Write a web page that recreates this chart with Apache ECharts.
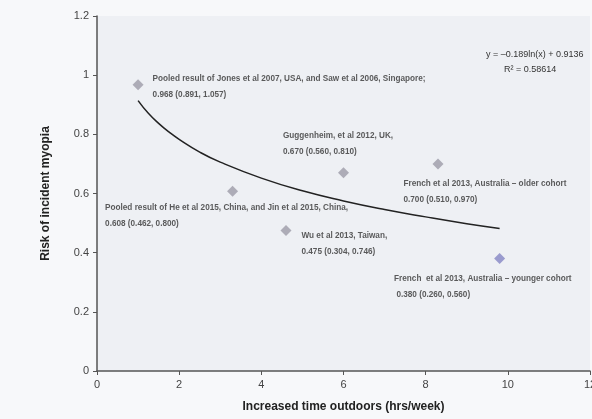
<!DOCTYPE html>
<html>
<head>
<meta charset="utf-8">
<script src="https://cdn.jsdelivr.net/npm/echarts@6/dist/echarts.min.js"></script>
<style>
  html, body { margin: 0; padding: 0; background: #f7f8fa; }
  #chart { width: 592px; height: 419px; }
</style>
</head>
<body>
<div id="chart"></div>
<script>
// study points: hours outdoors vs risk
var studyX = [1.0, 6.0, 8.3, 3.3, 4.6, 9.8];
var studyY = [0.968, 0.670, 0.700, 0.608, 0.475, 0.380];
var studyLabels = [
  'Pooled result of Jones et al 2007, USA, and Saw et al 2006, Singapore;\n0.968 (0.891, 1.057)',
  'Guggenheim, et al 2012, UK,\n0.670 (0.560, 0.810)',
  'French et al 2013, Australia \u2013 older cohort\n0.700 (0.510, 0.970)',
  'Pooled result of He et al 2015, China, and Jin et al 2015, China,\n0.608 (0.462, 0.800)',
  'Wu et al 2013, Taiwan,\n0.475 (0.304, 0.746)',
  'French  et al 2013, Australia \u2013 younger cohort\n 0.380 (0.260, 0.560)'
];
// trend line
var trendX = [1, 1.25, 1.5, 1.75, 2, 2.5, 3, 4, 5, 6, 7, 8, 9, 9.8];
var trendY = [0.914, 0.871, 0.837, 0.808, 0.783, 0.740, 0.706, 0.652, 0.609, 0.575, 0.546, 0.521, 0.498, 0.482];
var xTicks = [0, 2, 4, 6, 8, 10, 12];
var yTicks = [0, 0.2, 0.4, 0.6, 0.8, 1, 1.2];

var labelPos = [[20, -8], [-55, -40], [-29, 17], [-122, 14], [21, 3], [-100, 18]];
var pointColors = ['#9c9ba8', '#9c9ba8', '#9c9ba8', '#9c9ba8', '#9c9ba8', '#8486c4'];

var scatterData = [];
for (var i = 0; i < studyX.length; i++) {
  scatterData.push({
    value: [studyX[i], studyY[i]],
    itemStyle: { color: pointColors[i] },
    label: {
      show: true,
      position: labelPos[i],
      formatter: studyLabels[i],
      fontSize: 8.2,
      lineHeight: 16,
      color: '#333',
      fontWeight: 'bold',
      fontFamily: 'Liberation Sans'
    }
  });
}
var trendData = [];
for (var j = 0; j < trendX.length; j++) {
  trendData.push([trendX[j], trendY[j]]);
}

var myChart = echarts.init(document.getElementById('chart'));
var option = {
  backgroundColor: '#f7f8fa',
  animation: false,
  grid: {
    left: 97, right: 2, top: 16, bottom: 48,
    outerBoundsMode: 'none',
    containLabel: false,
    show: true, backgroundColor: '#eef0f4', borderWidth: 0
  },
  xAxis: {
    type: 'value',
    min: xTicks[0], max: xTicks[xTicks.length - 1], interval: 2,
    name: 'Increased time outdoors (hrs/week)',
    nameLocation: 'middle', nameGap: 30,
    nameTextStyle: { fontSize: 12, fontWeight: 'bold', color: '#222', fontFamily: 'Liberation Sans' },
    axisLine: { lineStyle: { color: '#555', width: 1.5 } },
    axisTick: { show: true, length: 4, lineStyle: { color: '#555' } },
    axisLabel: { fontSize: 11, color: '#444', margin: 8, fontFamily: 'Liberation Sans' },
    splitLine: { show: false }
  },
  yAxis: {
    type: 'value',
    min: yTicks[0], max: yTicks[yTicks.length - 1], interval: 0.2,
    name: 'Risk of incident myopia',
    nameLocation: 'middle', nameGap: 45,
    nameTextStyle: { fontSize: 12, fontWeight: 'bold', color: '#222', fontFamily: 'Liberation Sans' },
    axisLine: { show: true, lineStyle: { color: '#555', width: 1.5 } },
    axisTick: { show: true, length: 4, lineStyle: { color: '#555' } },
    axisLabel: { fontSize: 11, color: '#444', margin: 8, fontFamily: 'Liberation Sans' },
    splitLine: { show: false }
  },
  graphic: [
    {
      type: 'text', left: 486, top: 50,
      style: { text: 'y = \u20130.189ln(x) + 0.9136', fontSize: 9, fill: '#333', fontFamily: 'Liberation Sans' }
    },
    {
      type: 'text', left: 504, top: 65,
      style: { text: 'R\u00b2 = 0.58614', fontSize: 9, fill: '#333', fontFamily: 'Liberation Sans' }
    }
  ],
  series: [
    {
      name: 'trend',
      type: 'line',
      data: trendData,
      smooth: true,
      showSymbol: false,
      lineStyle: { color: '#222', width: 1.5 },
      z: 2
    },
    {
      name: 'studies',
      type: 'scatter',
      symbol: 'diamond',
      symbolSize: 11,
      data: scatterData,
      z: 3
    }
  ]
};
myChart.setOption(option);
</script>
</body>
</html>
